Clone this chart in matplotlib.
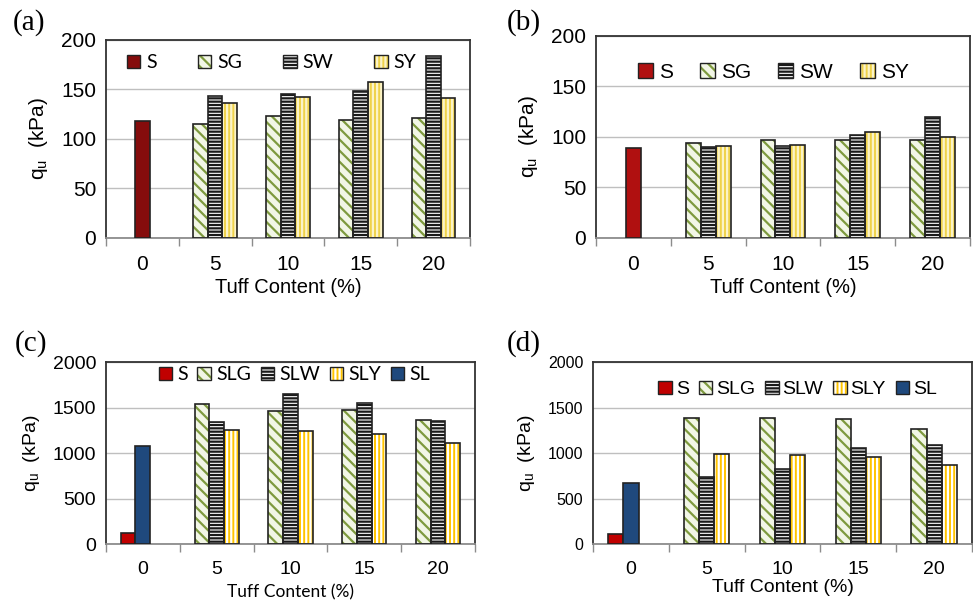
import matplotlib
matplotlib.use("Agg")
import matplotlib.pyplot as plt
from matplotlib.patches import Patch

plt.rcParams["font.family"] = ["Liberation Sans", "DejaVu Sans"]
plt.rcParams["mathtext.default"] = "regular"
plt.rcParams["hatch.linewidth"] = 1.6

tuff = ["0", "5", "10", "15", "20"]

# panel (a)
a_S = [118]
a_SG = [115, 123, 119, 121]
a_SW = [143, 145, 148, 184]
a_SY = [136, 142, 158, 141]
# panel (b)
b_S = [89]
b_SG = [94, 97, 97, 97]
b_SW = [90, 91, 102, 120]
b_SY = [91, 92, 105, 100]
# panel (c)
c_S = [117]
c_SL = [1075]
c_SLG = [1539, 1466, 1477, 1367]
c_SLW = [1338, 1653, 1547, 1353]
c_SLY = [1250, 1243, 1210, 1112]
# panel (d)
d_S = [114]
d_SL = [674]
d_SLG = [1381, 1381, 1370, 1267]
d_SLW = [740, 821, 1055, 1088]
d_SLY = [993, 978, 960, 868]

W = 0.2
EDGE = "#222222"
STYLES = {
    "S_dark": dict(fc="#850C0C", hatch=None, hc=None),
    "S_mid": dict(fc="#B01010", hatch=None, hc=None),
    "S_red": dict(fc="#C00000", hatch=None, hc=None),
    "SL": dict(fc="#1F497D", hatch=None, hc=None),
    "G": dict(fc="#F2F6E6", hatch="\\\\\\", hc="#7E9A3E"),
    "W": dict(fc="white", hatch="-----", hc="#1a1a1a"),
    "Y_pale": dict(fc="#EFD24A", hatch="||||", hc="#FBF3C8"),
    "Y": dict(fc="#FFC400", hatch="||||", hc="white"),
}


def draw(ax, xs, hs, st):
    s = STYLES[st]
    if s["hatch"]:
        ax.bar(xs, hs, W, color=s["fc"], edgecolor=s["hc"], hatch=s["hatch"],
               linewidth=0, zorder=2)
        ax.bar(xs, hs, W, fill=False, edgecolor=EDGE, linewidth=1.2, zorder=3)
    else:
        ax.bar(xs, hs, W, color=s["fc"], edgecolor=EDGE, linewidth=1.2, zorder=3)


def handle(st):
    s = STYLES[st]
    if s["hatch"]:
        return (Patch(facecolor=s["fc"], edgecolor=s["hc"], hatch=s["hatch"], linewidth=0),
                Patch(fill=False, edgecolor=EDGE, linewidth=1.0))
    return Patch(facecolor=s["fc"], edgecolor=EDGE, linewidth=1.0)


def setup(ax, ymax, step, tick_fs, xl_fs, xl_family, yl_fs, xl_pad):
    ax.set_xlim(-0.5, 4.5)
    ax.set_ylim(0, ymax)
    ax.set_yticks(range(0, ymax + 1, step))
    ax.set_xticks(range(5))
    ax.set_xticklabels(tuff)
    ax.set_xticks([i - 0.5 for i in range(6)], minor=True)
    ax.tick_params(axis="x", which="major", length=0, pad=12, labelsize=tick_fs)
    ax.tick_params(axis="x", which="minor", length=6, color="#8c8c8c", width=1)
    ax.tick_params(axis="y", length=0, pad=7, labelsize=tick_fs)
    ax.yaxis.grid(True, color="#BFBFBF", linewidth=1)
    ax.set_axisbelow(True)
    for sp in ["top", "right", "left"]:
        ax.spines[sp].set_color("#333333")
        ax.spines[sp].set_linewidth(1.3)
    ax.spines["bottom"].set_color("#8c8c8c")
    ax.spines["bottom"].set_linewidth(1.3)
    ax.set_xlabel("Tuff Content (%)", fontsize=xl_fs, family=xl_family, labelpad=xl_pad)
    ax.set_ylabel(r"q$_{u}$  (kPa)", fontsize=yl_fs, labelpad=8)


fig = plt.figure(figsize=(9.73, 6.02), dpi=100)
axa = fig.add_axes([0.1089, 0.6047, 0.3741, 0.3289])
axb = fig.add_axes([0.6125, 0.6047, 0.3844, 0.3355])
axc = fig.add_axes([0.1089, 0.0963, 0.3792, 0.3023])
axd = fig.add_axes([0.6095, 0.0963, 0.3895, 0.3023])

grp = [1, 2, 3, 4]
# (a)
draw(axa, [0], a_S, "S_dark")
draw(axa, [g - W for g in grp], a_SG, "G")
draw(axa, grp, a_SW, "W")
draw(axa, [g + W for g in grp], a_SY, "Y_pale")
setup(axa, 200, 50, 15, 14.5, ["Liberation Sans"], 15, 3)
axa.legend([handle("S_dark"), handle("G"), handle("W"), handle("Y_pale")],
           ["S", "SG", "SW", "SY"], ncol=4, loc="center", bbox_to_anchor=(0.455, 0.885),
           frameon=False, handlelength=0.7, handleheight=0.7, handletextpad=0.3,
           columnspacing=2.1, prop={"family": "Lato", "size": 14})

# (b)
draw(axb, [0], b_S, "S_mid")
draw(axb, [g - W for g in grp], b_SG, "G")
draw(axb, grp, b_SW, "W")
draw(axb, [g + W for g in grp], b_SY, "Y_pale")
setup(axb, 200, 50, 15, 14.5, ["Liberation Sans"], 15, 3)
axb.legend([handle("S_mid"), handle("G"), handle("W"), handle("Y_pale")],
           ["S", "SG", "SW", "SY"], ncol=4, loc="center", bbox_to_anchor=(0.475, 0.82),
           frameon=False, handlelength=0.7, handleheight=0.7, handletextpad=0.3,
           columnspacing=1.3, prop={"size": 15})

# (c)
draw(axc, [-W], c_S, "S_red")
draw(axc, [0], c_SL, "SL")
draw(axc, [g - W for g in grp], c_SLG, "G")
draw(axc, grp, c_SLW, "W")
draw(axc, [g + W for g in grp], c_SLY, "Y")
setup(axc, 2000, 500, 14, 12.5, ["Lato"], 14, 5)
axc.legend([handle("S_red"), handle("G"), handle("W"), handle("Y"), handle("SL")],
           ["S", "SLG", "SLW", "SLY", "SL"], ncol=5, loc="center",
           bbox_to_anchor=(0.51, 0.93), frameon=False, handlelength=0.7,
           handleheight=0.7, handletextpad=0.25, columnspacing=0.5,
           prop={"family": "Lato", "size": 14})

# (d)
draw(axd, [-W], d_S, "S_red")
draw(axd, [0], d_SL, "SL")
draw(axd, [g - W for g in grp], d_SLG, "G")
draw(axd, grp, d_SLW, "W")
draw(axd, [g + W for g in grp], d_SLY, "Y")
setup(axd, 2000, 500, 11.5, 14, ["Liberation Sans"], 14, 1)
axd.tick_params(axis="x", which="major", labelsize=14)
axd.legend([handle("S_red"), handle("G"), handle("W"), handle("Y"), handle("SL")],
           ["S", "SLG", "SLW", "SLY", "SL"], ncol=5, loc="center",
           bbox_to_anchor=(0.54, 0.85), frameon=False, handlelength=0.7,
           handleheight=0.7, handletextpad=0.2, columnspacing=0.5,
           prop={"size": 14})

for lab, x, y in [("(a)", 0.013, 0.963), ("(b)", 0.521, 0.963),
                  ("(c)", 0.015, 0.43), ("(d)", 0.521, 0.43)]:
    fig.text(x, y, lab, family="Liberation Serif", fontsize=21, va="center", ha="left")

fig.savefig("out.png", dpi=100)
